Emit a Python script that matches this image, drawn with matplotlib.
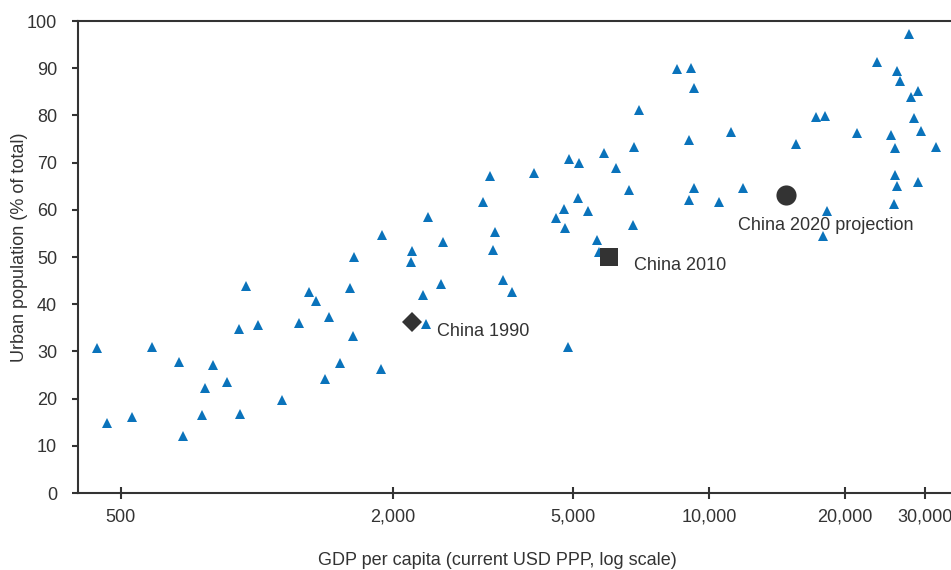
import matplotlib
matplotlib.use("Agg")
import matplotlib.pyplot as plt
from matplotlib.ticker import FixedLocator, FixedFormatter, NullLocator

plt.rcParams['font.family'] = ['Liberation Sans Narrow', 'Liberation Sans', 'DejaVu Sans']

# Countries: GDP per capita (current USD PPP) and urban population share (%)
gdp_per_capita = [
    443, 467, 530, 587, 673, 686, 756, 769, 801, 859,
    912, 918, 946, 1008, 1137, 1240, 1302, 1351, 1415, 1446,
    1527, 1604, 1634, 1642, 1879, 1894, 2207, 2196, 2325, 2363,
    2391, 2558, 2585, 3163, 3278, 3328, 3362, 3507, 3672, 4095,
    4581, 4771, 4796, 4914, 4884, 5153, 5132, 5390, 5654, 5721,
    5866, 6220, 6653, 6779, 6832, 7011, 8497, 9109, 9263, 9015,
    9043, 9263, 10540, 11200, 11892, 15549, 17214, 18049, 17825, 18263,
    21280, 23561, 25219, 25778, 26083, 26443, 25737, 26003, 25684, 27680,
    28008, 28938, 28445, 29439, 28938, 31763,
]
urban_share = [
    30.7, 14.9, 16.2, 31.0, 27.8, 12.1, 16.5, 22.3, 27.1, 23.5,
    34.7, 16.8, 43.9, 35.5, 19.6, 36.0, 42.5, 40.6, 24.2, 37.2,
    27.6, 43.4, 33.2, 49.9, 26.3, 54.7, 51.2, 48.9, 42.0, 35.7,
    58.4, 44.3, 53.2, 61.7, 67.1, 51.5, 55.3, 45.1, 42.5, 67.7,
    58.3, 60.2, 56.2, 70.7, 31.0, 69.9, 62.4, 59.7, 53.5, 51.1,
    72.0, 68.9, 64.2, 56.8, 73.4, 81.1, 89.8, 90.1, 85.9, 74.7,
    62.0, 64.6, 61.7, 76.4, 64.6, 73.9, 79.6, 79.8, 54.4, 59.7,
    76.3, 91.4, 75.8, 73.1, 89.5, 87.2, 67.3, 65.1, 61.2, 97.2,
    84.0, 85.1, 79.5, 76.8, 65.8, 73.3,
]

# China over time
china_labels = ["China 1990", "China 2010", "China 2020 projection"]
china_gdp = [2207, 6001, 14775]
china_urban = [36.3, 49.9, 63.1]
china_markers = ["D", "s", "o"]
china_sizes = [10.5, 13.5, 14.5]

x_ticks = [500, 2000, 5000, 10000, 20000, 30000]
x_tick_labels = ["500", "2,000", "5,000", "10,000", "20,000", "30,000"]
y_ticks = list(range(0, 101, 10))

blue = "#0a73bb"
dark = "#333333"

fig = plt.figure(figsize=(9.51, 5.70), dpi=100)
ax = fig.add_axes([78 / 951, 1 - 493 / 570, 1 - 78 / 951, (493 - 21) / 570])

ax.plot(gdp_per_capita, urban_share, linestyle="none", marker="^",
        markersize=7.8, color=blue, markeredgewidth=0, zorder=3)

for lab, gx, uy, m, s in zip(china_labels, china_gdp, china_urban, china_markers, china_sizes):
    ax.plot([gx], [uy], linestyle="none", marker=m, markersize=s,
            color=dark, markeredgewidth=0, zorder=4)

ax.annotate(china_labels[0], (china_gdp[0], china_urban[0]), xytext=(18, -7),
            textcoords="offset points", fontsize=13, color=dark, va="center", ha="left")
ax.annotate(china_labels[1], (china_gdp[1], china_urban[1]), xytext=(18, -6),
            textcoords="offset points", fontsize=13, color=dark, va="center", ha="left")
ax.annotate(china_labels[2], (china_gdp[2], china_urban[2]), xytext=(-34, -21.5),
            textcoords="offset points", fontsize=13, color=dark, va="center", ha="left")

ax.set_xscale("log")
ax.set_xlim(402.4, 34280)
ax.set_ylim(0, 100)

ax.xaxis.set_major_locator(FixedLocator(x_ticks))
ax.xaxis.set_major_formatter(FixedFormatter(x_tick_labels))
ax.xaxis.set_minor_locator(NullLocator())
ax.set_yticks(y_ticks)

for side in ("left", "bottom", "top"):
    ax.spines[side].set_color(dark)
    ax.spines[side].set_linewidth(1.5)
ax.spines["right"].set_visible(False)

ax.tick_params(axis="x", direction="inout", length=8, width=1.5, color=dark,
               labelsize=13, labelcolor=dark, pad=7.5)
ax.tick_params(axis="y", direction="out", length=4, width=1.5, color=dark,
               labelsize=13, labelcolor=dark, pad=11)

ax.set_xlabel("GDP per capita (current USD PPP, log scale)", fontsize=13, color=dark)
ax.set_ylabel("Urban population (% of total)", fontsize=13, color=dark)
ax.xaxis.set_label_coords(0.48, -0.124)
ax.yaxis.set_label_coords(-0.057, 0.52)

fig.savefig("out.png", dpi=100)
